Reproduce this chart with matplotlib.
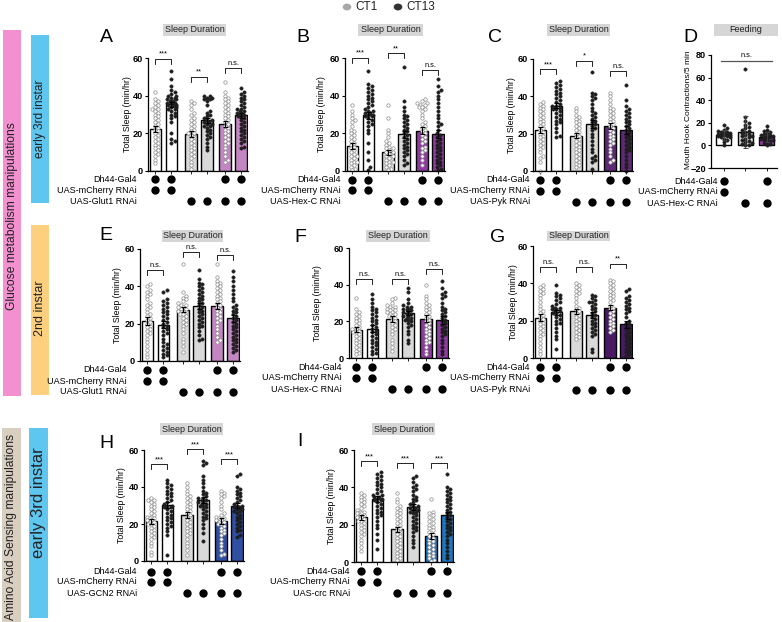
import numpy as np
import matplotlib
matplotlib.use('Agg')
import matplotlib.pyplot as plt
from matplotlib.patches import Rectangle
import matplotlib.transforms as mtransforms

plt.rcParams['font.family'] = ['Liberation Sans', 'DejaVu Sans']

# ---------------- DATA ----------------
# Panel A  (early 3rd instar, Glut1)
A_means = [22.5, 35.5, 19.5, 27, 25, 29.5]
A_sem = [1.6, 1.4, 1.5, 1.3, 1.7, 1.2]
A_points = [
    [42, 38, 37, 36, 35, 34, 33, 33, 32, 31, 30, 29, 28, 27, 26, 25, 24, 23, 22, 21, 20, 19, 18, 17, 16, 15, 14, 13, 12, 11, 10, 9, 8, 6, 4],
    [53, 49, 45, 43, 42, 41, 40, 40, 39, 39, 38, 38, 37, 37, 36, 36, 36, 35, 35, 35, 34, 34, 33, 33, 32, 31, 30, 29, 28, 26, 20, 17, 16, 15],
    [37, 36, 35, 33, 31, 30, 28, 27, 26, 25, 24, 23, 22, 21, 20, 20, 19, 18, 17, 16, 15, 14, 13, 12, 11, 10, 9, 8, 7, 5, 3, 1],
    [40, 40, 39, 39, 38, 38, 37, 35, 32, 31, 30, 29, 28, 27, 27, 26, 26, 25, 25, 24, 24, 23, 22, 21, 20, 19, 18, 17, 15, 13, 11],
    [47, 42, 40, 39, 38, 37, 36, 35, 34, 33, 32, 31, 30, 29, 28, 27, 26, 25, 24, 23, 22, 21, 20, 19, 18, 17, 16, 15, 14, 12, 10, 8, 6, 5],
    [44, 42, 41, 40, 39, 38, 37, 36, 35, 34, 33, 33, 32, 32, 31, 31, 30, 30, 29, 29, 28, 27, 26, 25, 24, 23, 22, 21, 20, 19, 18, 17, 16, 15, 13, 12],
]
A_sig = [(59.5, '***'), (50, '**'), (54.6, 'n.s.')]

# Panel B  (early 3rd instar, Hex-C)
B_means = [13.5, 29.5, 10, 19.5, 21.5, 19.5]
B_sem = [1.6, 2.0, 1.4, 1.9, 1.7, 2.2]
B_points = [
    [35, 32, 30, 28, 27, 26, 24, 22, 21, 20, 19, 18, 17, 16, 15, 14, 13, 12, 11, 10, 9, 8, 8, 7, 6, 5, 5, 4, 3, 2, 1, 0.5],
    [53, 46, 45, 44, 43, 42, 41, 40, 39, 38, 37, 36, 35, 34, 33, 32, 32, 31, 31, 30, 30, 29, 29, 28, 27, 26, 25, 24, 22, 20, 15, 10, 6, 2, 0.5],
    [35, 28, 22, 20, 18, 16, 15, 14, 13, 12, 12, 11, 10, 10, 9, 8, 8, 7, 6, 5, 5, 4, 3, 2, 1, 0.5],
    [55, 37, 34, 32, 30, 29, 28, 27, 26, 25, 24, 23, 22, 21, 20, 19, 18, 17, 16, 15, 14, 13, 12, 11, 10, 9, 8, 6, 4, 3],
    [38, 37, 36, 36, 35, 35, 34, 34, 33, 32, 30, 28, 26, 25, 24, 23, 22, 21, 20, 19, 18, 17, 16, 15, 13, 12, 11, 10, 8, 6, 3],
    [49, 45, 43, 42, 40, 38, 36, 34, 32, 30, 28, 26, 25, 24, 22, 20, 19, 18, 17, 16, 15, 14, 13, 12, 11, 10, 9, 8, 7, 6, 5, 4, 3, 2, 1, 0.5],
]
B_sig = [(60, '***'), (62.5, '**'), (53.5, 'n.s.')]

# Panel C  (early 3rd instar, Pyk)
C_means = [22, 35, 19, 25, 24, 22]
C_sem = [1.6, 1.3, 1.5, 2.2, 1.7, 2.0]
C_points = [
    [37, 36, 35, 34, 33, 32, 31, 30, 29, 28, 27, 26, 25, 24, 23, 22, 21, 20, 19, 18, 17, 16, 15, 14, 13, 12, 10, 8, 7, 5, 0],
    [48, 47, 46, 45, 44, 43, 42, 41, 40, 39, 38, 37, 36, 35, 35, 34, 34, 33, 33, 32, 31, 30, 29, 28, 27, 26, 25, 23, 21, 19, 18],
    [34, 32, 30, 29, 28, 27, 26, 25, 24, 23, 22, 21, 20, 19, 18, 17, 16, 15, 14, 13, 12, 11, 10, 9, 8, 7, 6, 5, 4, 3, 2],
    [53, 42, 41, 40, 39, 38, 36, 34, 32, 31, 30, 29, 28, 27, 26, 25, 24, 23, 22, 20, 18, 16, 14, 12, 10, 8, 7, 6, 5, 1],
    [42, 40, 38, 36, 34, 33, 32, 31, 30, 29, 28, 27, 26, 25, 24, 23, 22, 21, 20, 19, 18, 17, 16, 15, 14, 12, 10, 8, 6, 5],
    [46, 38, 35, 33, 32, 31, 30, 29, 28, 27, 26, 25, 24, 23, 22, 21, 20, 19, 18, 17, 16, 15, 14, 13, 12, 11, 10, 8, 6, 4, 2, 0],
]
C_sig = [(54.5, '***'), (59, '*'), (53.5, 'n.s.')]

# Panel D  (feeding)
D_means = [9.5, 12, 7.5]
D_sd = [4.5, 14, 4.5]
D_points = [
    [18, 15, 14, 13, 12, 12, 11, 11, 10, 10, 10, 9, 9, 9, 8, 8, 7, 7, 6, 5, 3, 0],
    [68, 25, 22, 20, 18, 16, 15, 14, 13, 12, 11, 10, 9, 8, 8, 7, 6, 5, 4, 3, 2, 1, 0, 0],
    [17, 14, 13, 12, 11, 10, 9, 9, 8, 8, 7, 7, 6, 6, 5, 5, 4, 3, 2, 1, 0],
]

# Panel E  (2nd instar, Glut1)
E_means = [21.5, 19.5, 27.5, 29.5, 29.5, 23]
E_sem = [2.0, 1.7, 1.5, 1.6, 1.6, 1.9]
E_points = [
    [41, 40, 38, 37, 36, 35, 33, 31, 30, 29, 28, 26, 25, 24, 23, 22, 21, 20, 19, 18, 17, 16, 15, 14, 12, 10, 8, 6, 4, 2],
    [38, 37, 33, 32, 31, 30, 29, 28, 27, 26, 25, 24, 23, 22, 21, 20, 19, 18, 17, 16, 15, 14, 12, 10, 9, 8, 7, 6, 5, 4, 3, 2],
    [52, 37, 35, 34, 33, 32, 31, 30, 30, 29, 29, 28, 28, 27, 27, 26, 26, 25, 25, 24, 23, 22, 21, 20, 19, 17, 15, 12, 10, 8, 5],
    [49, 44, 42, 41, 40, 39, 38, 37, 36, 35, 34, 33, 32, 31, 30, 29, 28, 27, 26, 25, 24, 23, 22, 21, 20, 19, 18, 16, 14, 12, 11],
    [52, 45, 43, 42, 41, 40, 39, 38, 37, 36, 35, 34, 33, 32, 31, 30, 29, 28, 27, 26, 25, 24, 23, 22, 21, 19, 17, 15, 13, 11, 10],
    [48, 45, 43, 40, 38, 36, 34, 32, 30, 29, 28, 27, 26, 25, 24, 23, 22, 21, 20, 19, 18, 17, 16, 15, 14, 13, 12, 11, 10, 9, 8, 7, 6, 5],
]
E_sig = [(48.7, 'n.s.'), (58.4, 'n.s.'), (56.8, 'n.s.')]

# Panel F  (2nd instar, Hex-C)
F_means = [15.5, 16, 21.5, 24.5, 21.5, 20.5]
F_sem = [1.5, 1.8, 1.6, 1.3, 2.0, 2.2]
F_points = [
    [33, 27, 25, 24, 23, 22, 21, 20, 19, 18, 17, 16, 16, 15, 15, 14, 14, 13, 12, 11, 10, 9, 8, 7, 6, 5, 4, 3, 2],
    [35, 32, 30, 28, 27, 26, 25, 24, 23, 22, 21, 20, 19, 18, 17, 16, 15, 14, 13, 12, 11, 10, 9, 8, 7, 6, 5, 4, 3, 2],
    [33, 32, 30, 29, 28, 28, 27, 27, 26, 26, 25, 25, 24, 24, 23, 23, 22, 21, 20, 19, 18, 17, 16, 15, 13, 10, 8, 6, 4],
    [38, 36, 32, 30, 29, 28, 28, 27, 27, 26, 26, 25, 25, 24, 24, 23, 23, 22, 22, 21, 21, 20, 19, 18, 17, 15, 13, 10, 8],
    [40, 34, 32, 30, 29, 28, 27, 26, 25, 24, 23, 22, 21, 20, 19, 18, 17, 16, 15, 14, 13, 12, 11, 10, 9, 8, 6, 4, 2],
    [42, 38, 36, 35, 34, 33, 30, 28, 27, 26, 25, 24, 23, 22, 21, 20, 19, 18, 17, 16, 15, 14, 13, 12, 10, 8, 6, 4, 2],
]
F_sig = [(43, 'n.s.'), (43, 'n.s.'), (48.5, 'n.s.')]

# Panel G  (2nd instar, Pyk)
G_means = [21.5, 24.5, 25, 23, 27, 18]
G_sem = [1.9, 1.4, 1.5, 1.8, 1.5, 2.0]
G_points = [
    [39, 38, 37, 36, 35, 34, 32, 30, 28, 26, 25, 24, 23, 22, 21, 20, 19, 18, 17, 16, 15, 14, 13, 12, 10, 8, 6, 4, 2],
    [39, 35, 34, 33, 32, 31, 30, 29, 28, 27, 27, 26, 26, 25, 25, 24, 24, 23, 22, 21, 20, 19, 18, 16, 14, 12, 10, 5],
    [40, 39, 38, 37, 36, 35, 34, 32, 30, 28, 27, 26, 25, 24, 23, 22, 21, 20, 19, 18, 17, 16, 15, 14, 13, 12, 11, 10],
    [34, 33, 32, 31, 30, 30, 29, 28, 27, 26, 25, 24, 23, 22, 21, 20, 19, 18, 17, 16, 15, 14, 13, 12, 5, 3],
    [42, 41, 40, 39, 38, 37, 36, 35, 34, 33, 32, 31, 30, 28, 27, 26, 25, 24, 23, 22, 21, 20, 19, 18, 17, 16, 15, 14],
    [37, 36, 33, 32, 31, 30, 29, 28, 27, 26, 25, 24, 22, 20, 19, 18, 17, 16, 15, 14, 13, 12, 11, 10, 9, 8, 7, 6, 5, 4, 3, 2, 1],
]
G_sig = [(48.7, 'n.s.'), (48.7, 'n.s.'), (50.5, '**')]

# Panel H  (amino acid, GCN2)
H_means = [21.5, 30.5, 25, 33, 21.5, 30]
H_sem = [1.3, 1.6, 1.7, 1.6, 1.6, 1.3]
H_points = [
    [34, 33, 33, 32, 31, 30, 29, 28, 27, 26, 25, 24, 24, 23, 23, 22, 22, 21, 21, 20, 20, 19, 18, 17, 16, 15, 14, 13, 12, 10, 8, 5, 3],
    [44, 42, 41, 40, 39, 38, 37, 36, 35, 34, 33, 32, 31, 30, 30, 29, 29, 28, 27, 26, 25, 24, 23, 22, 21, 20, 19, 18, 16, 14, 3],
    [42, 40, 38, 36, 35, 34, 33, 32, 31, 30, 29, 28, 27, 26, 25, 24, 23, 22, 21, 20, 19, 18, 17, 16, 15, 14, 12, 10, 8, 6, 3],
    [54, 53, 52, 46, 44, 42, 40, 38, 37, 36, 35, 34, 34, 33, 33, 32, 32, 31, 31, 30, 30, 29, 28, 27, 26, 25, 24, 23, 22, 20, 18, 15, 11],
    [38, 37, 36, 35, 34, 32, 30, 28, 26, 25, 24, 23, 23, 22, 22, 21, 21, 20, 20, 19, 18, 17, 16, 15, 14, 12, 10, 8, 6, 4, 3],
    [47, 46, 40, 39, 38, 37, 36, 35, 34, 33, 32, 31, 30, 30, 29, 29, 28, 28, 27, 27, 26, 25, 24, 23, 22, 21, 20, 19, 18, 17, 16, 14, 13],
]
H_sig = [(52.4, '***'), (60.5, '***'), (55, '***')]

# Panel I  (amino acid, crc)
I_means = [24, 33.5, 17.5, 29.5, 14, 25]
I_sem = [1.3, 1.6, 1.5, 1.5, 1.5, 1.8]
I_points = [
    [37, 36, 35, 34, 33, 32, 31, 30, 29, 28, 27, 27, 26, 26, 25, 25, 24, 24, 23, 23, 22, 22, 21, 20, 19, 18, 17, 16, 15, 14, 12, 10, 8, 6],
    [48, 47, 46, 45, 44, 43, 42, 41, 40, 39, 38, 37, 36, 36, 35, 35, 34, 34, 33, 33, 32, 31, 30, 29, 28, 27, 26, 25, 24, 22, 20, 18, 15, 12, 7],
    [37, 34, 32, 30, 29, 28, 27, 26, 25, 24, 23, 22, 21, 20, 19, 18, 17, 16, 15, 14, 13, 12, 11, 10, 9, 8, 7, 6, 5, 4, 3, 2, 1],
    [46, 45, 43, 41, 40, 39, 38, 36, 35, 34, 33, 32, 31, 30, 30, 29, 29, 28, 28, 27, 27, 26, 25, 24, 23, 22, 21, 20, 19, 18, 17, 16, 14, 12, 10, 8],
    [34, 27, 26, 25, 24, 23, 22, 21, 20, 19, 18, 17, 16, 15, 14, 13, 12, 11, 10, 9, 8, 7, 6, 5, 4, 3, 2, 1, 0.5],
    [47, 40, 39, 38, 37, 36, 35, 34, 33, 32, 31, 30, 29, 28, 27, 26, 25, 24, 23, 22, 21, 20, 19, 18, 17, 16, 15, 14, 12, 10, 8, 6, 4, 2],
]
I_sig = [(54, '***'), (53, '***'), (53, '***')]

# genotype tables
geno_rows = ['Dh44-Gal4', 'UAS-mCherry RNAi']
geno_sleep = [[1, 1, 0, 0, 1, 1], [1, 1, 0, 0, 0, 0], [0, 0, 1, 1, 1, 1]]
geno_feed = [[1, 0, 1], [1, 0, 0], [0, 1, 1]]
yticks_sleep = [0, 20, 40, 60]
yticks_feed = [-20, 0, 20, 40, 60, 80]

# ---------------- STYLE / LAYOUT ----------------
W, H = 782, 622
fig = plt.figure(figsize=(7.82, 6.22), dpi=100)


def fx(x):
    return x / W


def fy(y):
    return 1 - y / H


POS = [0, 1, 2.2, 3.2, 4.3, 5.3]
XPP = 16.2
XL = (-0.45, 5.75)
WHITE, GREY = '#ffffff', '#d9d9d9'
PINK = '#c486c3'
PURPLE_F = '#8f3a9f'
PURPLE_C = '#5e2a76'
PURPLE_G = '#4b1a66'
MAGENTA_D = '#a13cb4'
BLUE_H = '#2f4fa2'
BLUE_I = '#1d78c1'
PT_DARK = '#1e1e1e'
PT_GREY = '#8c8c8c'


def swarm(vals, xpp, ypp, d=3.1, maxw=5.0):
    vals = np.asarray(vals, float)
    order = np.argsort(vals)
    step = d * 0.5
    cands = [0.0]
    k = 1
    while k * step <= maxw:
        cands += [k * step, -k * step]
        k += 1
    placed = []
    offs = np.zeros(len(vals))
    for i in order:
        y = vals[i] * ypp
        chosen = None
        bestc, bests = 0.0, -1
        for c in cands:
            if placed:
                pa = np.array(placed)
                md = np.min(np.hypot(pa[:, 0] - c, pa[:, 1] - y))
            else:
                md = 99
            if md >= d:
                chosen = c
                break
            if md > bests:
                bests, bestc = md, c
        if chosen is None:
            chosen = bestc
        placed.append((chosen, y))
        offs[i] = chosen / xpp
    return offs


def style_axes(ax):
    for s in ['top', 'right']:
        ax.spines[s].set_visible(False)
    for s in ['left', 'bottom']:
        ax.spines[s].set_linewidth(0.9)
    ax.tick_params(axis='y', length=2.5, width=0.8, pad=1.2, labelsize=6.6)
    ax.tick_params(axis='x', length=2, width=0.6)
    for lab in ax.get_yticklabels():
        lab.set_fontweight('bold')


def title_box(x0, x1, y0, y1, text):
    fig.patches.append(Rectangle((fx(x0), fy(y1)), fx(x1) - fx(x0), fy(y0) - fy(y1),
                                 transform=fig.transFigure, facecolor='#d6d6d6',
                                 edgecolor='none', zorder=0))
    fig.text(fx((x0 + x1) / 2), fy((y0 + y1) / 2), text, ha='center', va='center',
             fontsize=6.5, color='#222222')


def genotype(ax, xs, table, names, right, rows):
    trans = mtransforms.blended_transform_factory(ax.transData, fig.transFigure)
    for r, (name, yy) in enumerate(zip(names, rows)):
        fig.text(fx(right), fy(yy), name, ha='right', va='center', fontsize=6.5)
        for j, on in enumerate(table[r]):
            if on:
                ax.scatter([xs[j]], [fy(yy)], s=36, color='black', transform=trans,
                           clip_on=False, zorder=5, linewidths=0)


def sleep_panel(letter, letter_xy, left, top, bottom, points, means, sems, colors,
                sig, rnai, label_right, rows, box, ylabel_x):
    width = (XL[1] - XL[0]) * XPP
    ax = fig.add_axes([fx(left), fy(bottom), width / W, (bottom - top) / H])
    ax.set_xlim(*XL)
    ax.set_ylim(0, 60)
    ypp = (bottom - top) / 60.0
    for i in range(6):
        ax.bar(POS[i], means[i], width=0.7, color=colors[i], edgecolor='black',
               linewidth=1.0, zorder=1)
        offs = swarm(points[i], XPP, ypp)
        if i % 2 == 0:
            ax.scatter(np.array(POS[i]) + offs, points[i], s=6, facecolor='white',
                       edgecolor=PT_GREY, linewidths=0.5, zorder=2, clip_on=False)
        else:
            ax.scatter(np.array(POS[i]) + offs, points[i], s=6, facecolor=PT_DARK,
                       edgecolor=PT_DARK, linewidths=0.3, zorder=2, clip_on=False)
        ax.errorbar(POS[i], means[i], yerr=sems[i], color='black', capsize=1.8,
                    elinewidth=0.8, capthick=0.8, zorder=3)
    for g, (yv, txt) in enumerate(sig):
        x1, x2 = POS[2 * g], POS[2 * g + 1]
        ax.plot([x1, x1, x2, x2], [yv - 2.5, yv, yv, yv - 2.5], color='black',
                lw=0.6, clip_on=False, zorder=4)
        ax.text((x1 + x2) / 2, yv + 0.6, txt, ha='center', va='bottom', fontsize=5.3,
                clip_on=False)
    ax.set_yticks(yticks_sleep)
    ax.set_xticks(POS)
    ax.set_xticklabels([])
    style_axes(ax)
    fig.text(fx(ylabel_x), fy((top + bottom) / 2), 'Total Sleep (min/hr)', rotation=90,
             ha='center', va='center', fontsize=6.3)
    fig.text(fx(letter_xy[0]), fy(letter_xy[1]), letter, ha='center', va='center',
             fontsize=14)
    title_box(box[0], box[1], box[2], box[3], 'Sleep Duration')
    genotype(ax, POS, geno_sleep, geno_rows + [rnai], label_right, rows)
    return ax


cols_std = [WHITE, WHITE, GREY, GREY]

sleep_panel('A', (106, 38), 148, 58, 171, A_points, A_means, A_sem, cols_std + [PINK, PINK],
            A_sig, 'UAS-Glut1 RNAi', 137, [179, 190, 201], (163, 226, 24, 36), 127)
sleep_panel('B', (303, 38), 345, 58, 171, B_points, B_means, B_sem, cols_std + [PURPLE_F, PURPLE_F],
            B_sig, 'UAS-Hex-C RNAi', 341, [180, 190, 201], (358, 423, 24, 36), 322)
sleep_panel('C', (495, 38), 533, 59, 171, C_points, C_means, C_sem, cols_std + [PURPLE_C, PURPLE_C],
            C_sig, 'UAS-Pyk RNAi', 530, [180, 191, 202], (547, 610, 24, 36), 512)
sleep_panel('E', (106, 235), 140, 249, 361, E_points, E_means, E_sem, cols_std + [PINK, PINK],
            E_sig, 'UAS-Glut1 RNAi', 127, [370, 381, 392], (162, 223, 230, 242), 117)
sleep_panel('F', (300, 237), 349, 248, 358, F_points, F_means, F_sem, cols_std + [PURPLE_F, PURPLE_F],
            F_sig, 'UAS-Hex-C RNAi', 342, [367, 378, 389], (366, 430, 230, 242), 317)
sleep_panel('G', (498, 237), 533, 246, 358, G_points, G_means, G_sem, cols_std + [PURPLE_G, PURPLE_G],
            G_sig, 'UAS-Pyk RNAi', 530, [367, 378, 390], (547, 610, 231, 241), 513)
sleep_panel('H', (106, 443), 144, 450, 561, H_points, H_means, H_sem, cols_std + [BLUE_H, BLUE_H],
            H_sig, 'UAS-GCN2 RNAi', 137, [572, 582, 593], (160, 223, 423, 435), 122)
sleep_panel('I', (300, 442), 354, 450, 562, I_points, I_means, I_sem, cols_std + [BLUE_I, BLUE_I],
            I_sig, 'UAS-crc RNAi', 350, [571, 582, 593], (372, 435, 423, 435), 332)

# ---------------- Panel D ----------------
D_POS = [0, 1, 2]
D_XPP = 21.5
D_XL = (-0.6, 2.45)
d_left, d_top, d_bottom = 711, 55, 168
ax = fig.add_axes([fx(d_left), fy(d_bottom), (D_XL[1] - D_XL[0]) * D_XPP / W, (d_bottom - d_top) / H])
ax.set_xlim(*D_XL)
ax.set_ylim(-20, 80)
d_ypp = (d_bottom - d_top) / 100.0
d_cols = [WHITE, GREY, MAGENTA_D]
for i in range(3):
    ax.bar(D_POS[i], D_means[i], width=0.7, color=d_cols[i], edgecolor='black', linewidth=1.0, zorder=1)
    offs = swarm(D_points[i], D_XPP, d_ypp, maxw=7.0)
    ax.scatter(np.array(D_POS[i]) + offs, D_points[i], s=6, facecolor=PT_DARK, edgecolor=PT_DARK,
               linewidths=0.3, zorder=2, clip_on=False)
    ax.errorbar(D_POS[i], D_means[i], yerr=D_sd[i], color='#444444', capsize=1.8,
                elinewidth=0.7, capthick=0.7, zorder=3)
ax.plot([-0.15, 2.25], [75, 75], color='#555555', lw=0.9, clip_on=False)
ax.text(1.05, 76.5, 'n.s.', ha='center', va='bottom', fontsize=5.3)
ax.set_yticks(yticks_feed)
ax.set_xticks(D_POS)
ax.set_xticklabels([])
style_axes(ax)
fig.text(fx(689), fy((d_top + d_bottom) / 2 - 2), 'Mouth Hook Contractions/5 min', rotation=90,
         ha='center', va='center', fontsize=6.0)
fig.text(fx(690), fy(38), 'D', ha='center', va='center', fontsize=14)
title_box(714, 778, 24, 36, 'Feeding')
genotype(ax, D_POS, geno_feed, geno_rows + ['UAS-Hex-C RNAi'], 718, [181, 192, 203])

# ---------------- legend ----------------
fig.patches.append(plt.Circle((fx(347), fy(7)), 0.0055, transform=fig.transFigure,
                              facecolor='#a8a8a8', edgecolor='none'))
fig.text(fx(355), fy(7), 'CT1', ha='left', va='center', fontsize=8.5, color='#222222')
fig.patches.append(plt.Circle((fx(398), fy(7)), 0.0055, transform=fig.transFigure,
                              facecolor='#333333', edgecolor='none'))
fig.text(fx(406), fy(7), 'CT13', ha='left', va='center', fontsize=8.5, color='#222222')


# ---------------- side bars ----------------
def side_bar(x0, x1, y0, y1, color, text, fs, ty=None):
    fig.patches.append(Rectangle((fx(x0), fy(y1)), fx(x1) - fx(x0), fy(y0) - fy(y1),
                                 transform=fig.transFigure, facecolor=color, edgecolor='none'))
    cy = (y0 + y1) / 2 if ty is None else ty
    fig.text(fx((x0 + x1) / 2), fy(cy), text, rotation=90, ha='center', va='center',
             fontsize=fs, color='#222222')


side_bar(3, 21, 30, 396, '#f390d0', 'Glucose metabolism manipulations', 8.7, 216)
side_bar(31, 49, 35, 203, '#5ec6ef', 'early 3rd instar', 8.6, 119)
side_bar(31, 49, 225, 395, '#fdd080', '2nd instar', 9, 308)
side_bar(2, 21, 428, 640, '#d9cfc0', 'Amino Acid Sensing manipulations', 8.7, 527)
side_bar(29, 48, 428, 618, '#5ec6ef', 'early 3rd instar', 12, 503)

fig.savefig('out.png', dpi=100)
